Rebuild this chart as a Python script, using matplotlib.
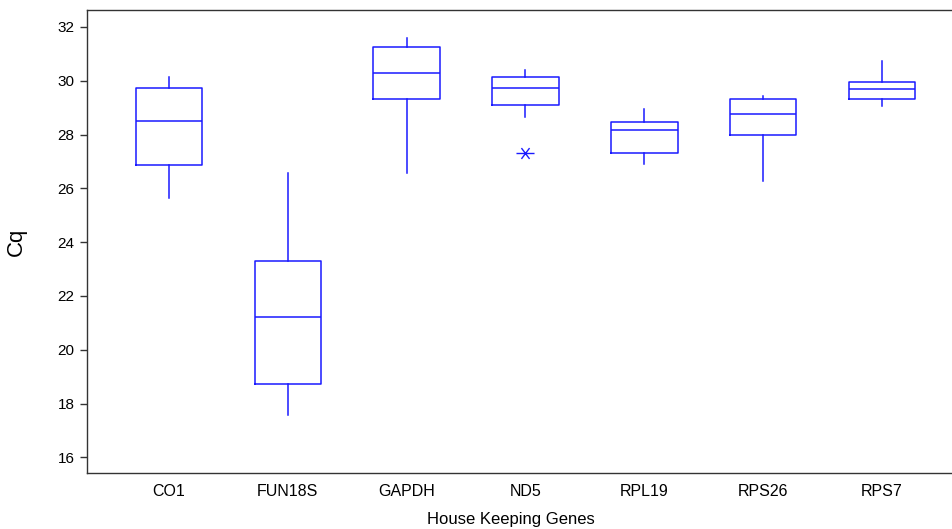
import matplotlib
matplotlib.use("Agg")
import matplotlib.pyplot as plt
from matplotlib.path import Path

plt.rcParams['font.family'] = ['Liberation Sans', 'DejaVu Sans']

genes = ["CO1", "FUN18S", "GAPDH", "ND5", "RPL19", "RPS26", "RPS7"]
whisker_low = [25.65, 17.57, 26.56, 28.66, 26.89, 26.27, 29.05]
q1 = [26.85, 18.71, 29.32, 29.09, 27.30, 27.98, 29.31]
median = [28.49, 21.23, 30.29, 29.73, 28.16, 28.75, 29.68]
q3 = [29.74, 23.29, 31.26, 30.13, 28.45, 29.32, 29.96]
whisker_high = [30.14, 26.56, 31.58, 30.39, 28.95, 29.44, 30.72]
outliers = [[], [], [], [27.32], [], [], []]
y_ticks = [16, 18, 20, 22, 24, 26, 28, 30, 32]

stats = []
for i, g in enumerate(genes):
    stats.append(dict(label=g, whislo=whisker_low[i], q1=q1[i], med=median[i],
                      q3=q3[i], whishi=whisker_high[i], fliers=outliers[i]))

star = Path([(-1, 0), (1, 0), (-0.45, -0.6), (0.45, 0.6), (-0.45, 0.6), (0.45, -0.6)],
            [Path.MOVETO, Path.LINETO, Path.MOVETO, Path.LINETO, Path.MOVETO, Path.LINETO])

fig = plt.figure(figsize=(9.52, 5.29), dpi=100)
ax = fig.add_axes([87/952, 56/529, 1 - 87/952, (473-10)/529])

col = '#1a1aff'
ax.bxp(stats, positions=range(1, len(genes)+1), widths=0.56, showcaps=False,
       boxprops=dict(color=col, linewidth=1.1),
       medianprops=dict(color=col, linewidth=1.1),
       whiskerprops=dict(color=col, linewidth=1.1),
       flierprops=dict(marker=star, markeredgecolor=col, markerfacecolor='none',
                       markersize=13, markeredgewidth=1.0, linestyle='none'))

ax.set_xlim(0.31, 7.59)
ax.set_ylim(15.42, 32.63)
ax.set_yticks(y_ticks)
ax.set_yticklabels([str(t) for t in y_ticks], fontsize=11)
ax.tick_params(axis='x', length=0, labelsize=11.5, pad=8)
ax.tick_params(axis='y', length=5, width=1, color='#333333', pad=4)
ax.spines['right'].set_visible(False)
for s in ['left', 'top', 'bottom']:
    ax.spines[s].set_color('#333333')
    ax.spines[s].set_linewidth(1.0)

ax.set_ylabel("Cq", fontsize=16, labelpad=22)
ax.set_xlabel("House Keeping Genes", fontsize=12, labelpad=11)
ax.xaxis.set_label_coords(0.49, -0.085)

fig.savefig("out.png", dpi=100)
